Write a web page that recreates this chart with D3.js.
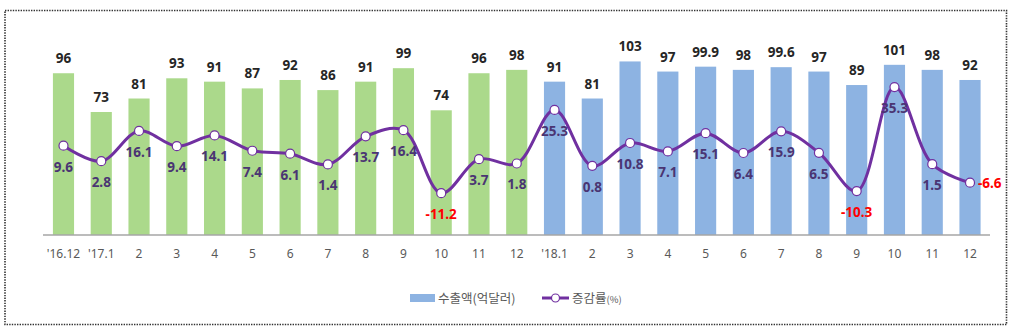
<!DOCTYPE html>
<html><head><meta charset="utf-8">
<script src="https://cdn.jsdelivr.net/npm/d3@7"></script>
<style>body{margin:0;background:#fff}svg{display:block}</style>
</head><body><svg id="c" width="1022" height="336"></svg>
<script>
const categories = ["'16.12","'17.1","2","3","4","5","6","7","8","9","10","11","12","'18.1","2","3","4","5","6","7","8","9","10","11","12"];
const exportsVal = [96,73,81,93,91,87,92,86,91,99,74,96,98,91,81,103,97,99.9,98,99.6,97,89,101,98,92];
const growth = [9.6,2.8,16.1,9.4,14.1,7.4,6.1,1.4,13.7,16.4,-11.2,3.7,1.8,25.3,0.8,10.8,7.1,15.1,6.4,15.9,6.5,-10.3,35.3,1.5,-6.6];
const year2017Count = 13;
const legendLabels = ["수출액(억달러)", "증감률"];

const svg = d3.select("#c");
const font = "'Noto Sans', 'Liberation Sans', sans-serif";
const kfont = "'Noto Sans CJK KR', 'Noto Sans', sans-serif";

svg.append("rect").attr("x",5).attr("y",10.5).attr("width",1001.5).attr("height",314)
  .attr("fill","none").attr("stroke","#333").attr("stroke-width",1.6).attr("stroke-dasharray","1.4,1.2");

const idx = d3.range(categories.length);
const x = d3.scaleBand().domain(idx).range([44.6, 988.9]).paddingInner(0.44).paddingOuter(0.22);
const y = d3.scaleLinear().domain([0,120]).range([235, 32.8]);
const y2 = d3.scaleLinear().domain([-20,40]).range([213.2, 76.4]);
const cx = i => x(i) + x.bandwidth()/2;

svg.selectAll("rect.bar").data(exportsVal).join("rect").attr("class","bar")
  .attr("x",(d,i)=>x(i)).attr("width",x.bandwidth())
  .attr("y",d=>y(d)).attr("height",d=>y(0)-y(d))
  .attr("fill",(d,i)=> i < year2017Count ? "#ABD98B" : "#8DB3E2");

// axis
const ax = svg.append("g").attr("transform","translate(0,235)")
  .call(d3.axisBottom(x).tickSize(0).tickPadding(14).tickFormat(i=>categories[i]));
ax.select(".domain").attr("stroke","#A6A6A6").attr("stroke-width",1.5).attr("d","M43,0H990");
ax.selectAll("text").attr("font-family",font).attr("font-size",12).attr("fill","#595959");

// bar labels
svg.selectAll("text.bl").data(exportsVal).join("text").attr("class","bl")
  .attr("x",(d,i)=>cx(i)).attr("y",d=>y(d)-10).attr("text-anchor","middle")
  .attr("font-family",font).attr("font-weight","bold").attr("font-size",13.5).attr("fill","#262626")
  .text(d=>d);

// line
const line = d3.line().x((d,i)=>cx(i)).y(d=>y2(d)).curve(d3.curveCatmullRom.alpha(0.5));
svg.append("path").datum(growth).attr("d",line).attr("fill","none")
  .attr("stroke","#7030A0").attr("stroke-width",3);
svg.selectAll("circle.pt").data(growth).join("circle").attr("class","pt")
  .attr("cx",(d,i)=>cx(i)).attr("cy",d=>y2(d)).attr("r",4.5)
  .attr("fill","#fff").attr("stroke","#7030A0").attr("stroke-width",1.2);

const last = growth.length-1;
svg.selectAll("text.gl").data(growth).join("text").attr("class","gl")
  .attr("x",(d,i)=> i===last ? cx(i)+8 : cx(i))
  .attr("y",(d,i)=> i===last ? y2(d)+5 : y2(d)+26)
  .attr("text-anchor",(d,i)=> i===last ? "start" : "middle")
  .attr("font-family",font).attr("font-weight","bold").attr("font-size",13.5)
  .attr("fill",d=> d<0 ? "#FF0000" : "#4A3573")
  .text(d=>d);

// legend
const lg = svg.append("g");
lg.append("rect").attr("x",410).attr("y",294).attr("width",25).attr("height",8).attr("fill","#8DB3E2");
lg.append("text").attr("x",438).attr("y",303).attr("font-family",kfont).attr("font-size",12.5).attr("fill","#595959").text(legendLabels[0]);
lg.append("line").attr("x1",542).attr("x2",569).attr("y1",298).attr("y2",298).attr("stroke","#7030A0").attr("stroke-width",3);
lg.append("circle").attr("cx",555.5).attr("cy",298).attr("r",4).attr("fill","#fff").attr("stroke","#7030A0").attr("stroke-width",1.2);
const t2 = lg.append("text").attr("x",572).attr("y",303).attr("font-family",kfont).attr("font-size",12.5).attr("fill","#595959");
t2.append("tspan").text(legendLabels[1]);
t2.append("tspan").attr("font-size",9.5).text("(%)");
</script></body></html>
